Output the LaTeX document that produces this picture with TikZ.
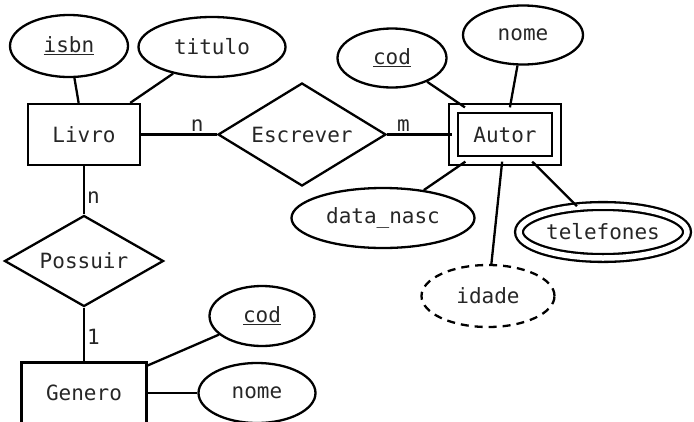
\documentclass[tikz,border=0pt]{standalone}
\usepackage{fontspec}
\setmainfont{DejaVu Sans Mono}
\usetikzlibrary{shapes.geometric}

\begin{document}
\begin{tikzpicture}[x=1pt, y=-1pt,
            every node/.style={font=\fontsize{21}{24}\selectfont, text=black!85},
            entity/.style={rectangle, draw, line width=2.3pt, inner sep=0pt},
            attr/.style={ellipse, draw, line width=2.3pt, inner sep=0pt, minimum height=60pt},
            rel/.style={diamond, draw, line width=2.3pt, inner sep=0pt, aspect=1.7},
            link/.style={line width=2.3pt},
            card/.style={inner sep=2pt},
        ]
            \clip (0,0) rectangle (694,421);
            % Livro
            \node[entity, minimum width=112pt, minimum height=61pt] (livro) at (84,134.5) {Livro};
            \node[attr, minimum width=118pt, minimum height=62pt] (isbn) at (69,46) {\underline{isbn}};
            \node[attr, minimum width=147pt] (titulo) at (212,47) {titulo};
            % Escrever
            \node[rel, minimum width=168pt, minimum height=103pt] (escrever) at (302,134.5) {Escrever};
            % Autor
            \node[entity, double, double distance=6.5pt, minimum width=103pt, minimum height=52pt] (autor) at (505,134.5) {Autor};
            \node[attr, minimum width=109pt, minimum height=59pt] (codautor) at (392,58) {\underline{cod}};
            \node[attr, minimum width=120pt, minimum height=59pt] (nomeautor) at (523,35) {nome};
            \node[attr, minimum width=183pt] (datanasc) at (383,218) {data\_nasc};
            \node[attr, double, double distance=5.5pt, minimum width=168pt, minimum height=52pt] (telefones) at (603,232) {telefones};
            \node[attr, dash pattern=on 8pt off 6pt, minimum width=133pt, minimum height=62pt] (idade) at (488,296) {idade};
            % Possuir e Genero
            \node[rel, minimum width=159pt, minimum height=91pt] (possuir) at (84,261) {Possuir};
            \node[entity, minimum width=125pt, minimum height=61pt] (genero) at (84,393) {Genero};
            \node[attr, minimum width=105pt] (codgenero) at (262,316) {\underline{cod}};
            \node[attr, minimum width=117pt] (nomegenero) at (257,393) {nome};

            \draw[link] (isbn) -- (livro);
            \draw[link] (titulo) -- (livro);
            \draw[link] (livro) -- node[card, pos=0.74, above] {n} (escrever);
            \draw[link] (escrever) -- node[card, pos=0.25, above] {m} (autor);
            \draw[link] (codautor) -- (autor);
            \draw[link] (nomeautor) -- (autor);
            \draw[link] (autor) -- (datanasc);
            \draw[link] (autor) -- (idade);
            \draw[link] (autor) -- (telefones);
            \draw[link] (livro) -- node[card, pos=0.65, right] {n} (possuir);
            \draw[link] (possuir) -- node[card, pos=0.55, right] {1} (genero);
            \draw[link] (codgenero) -- (genero);
            \draw[link] (genero) -- (nomegenero);
        \end{tikzpicture}
\end{document}
